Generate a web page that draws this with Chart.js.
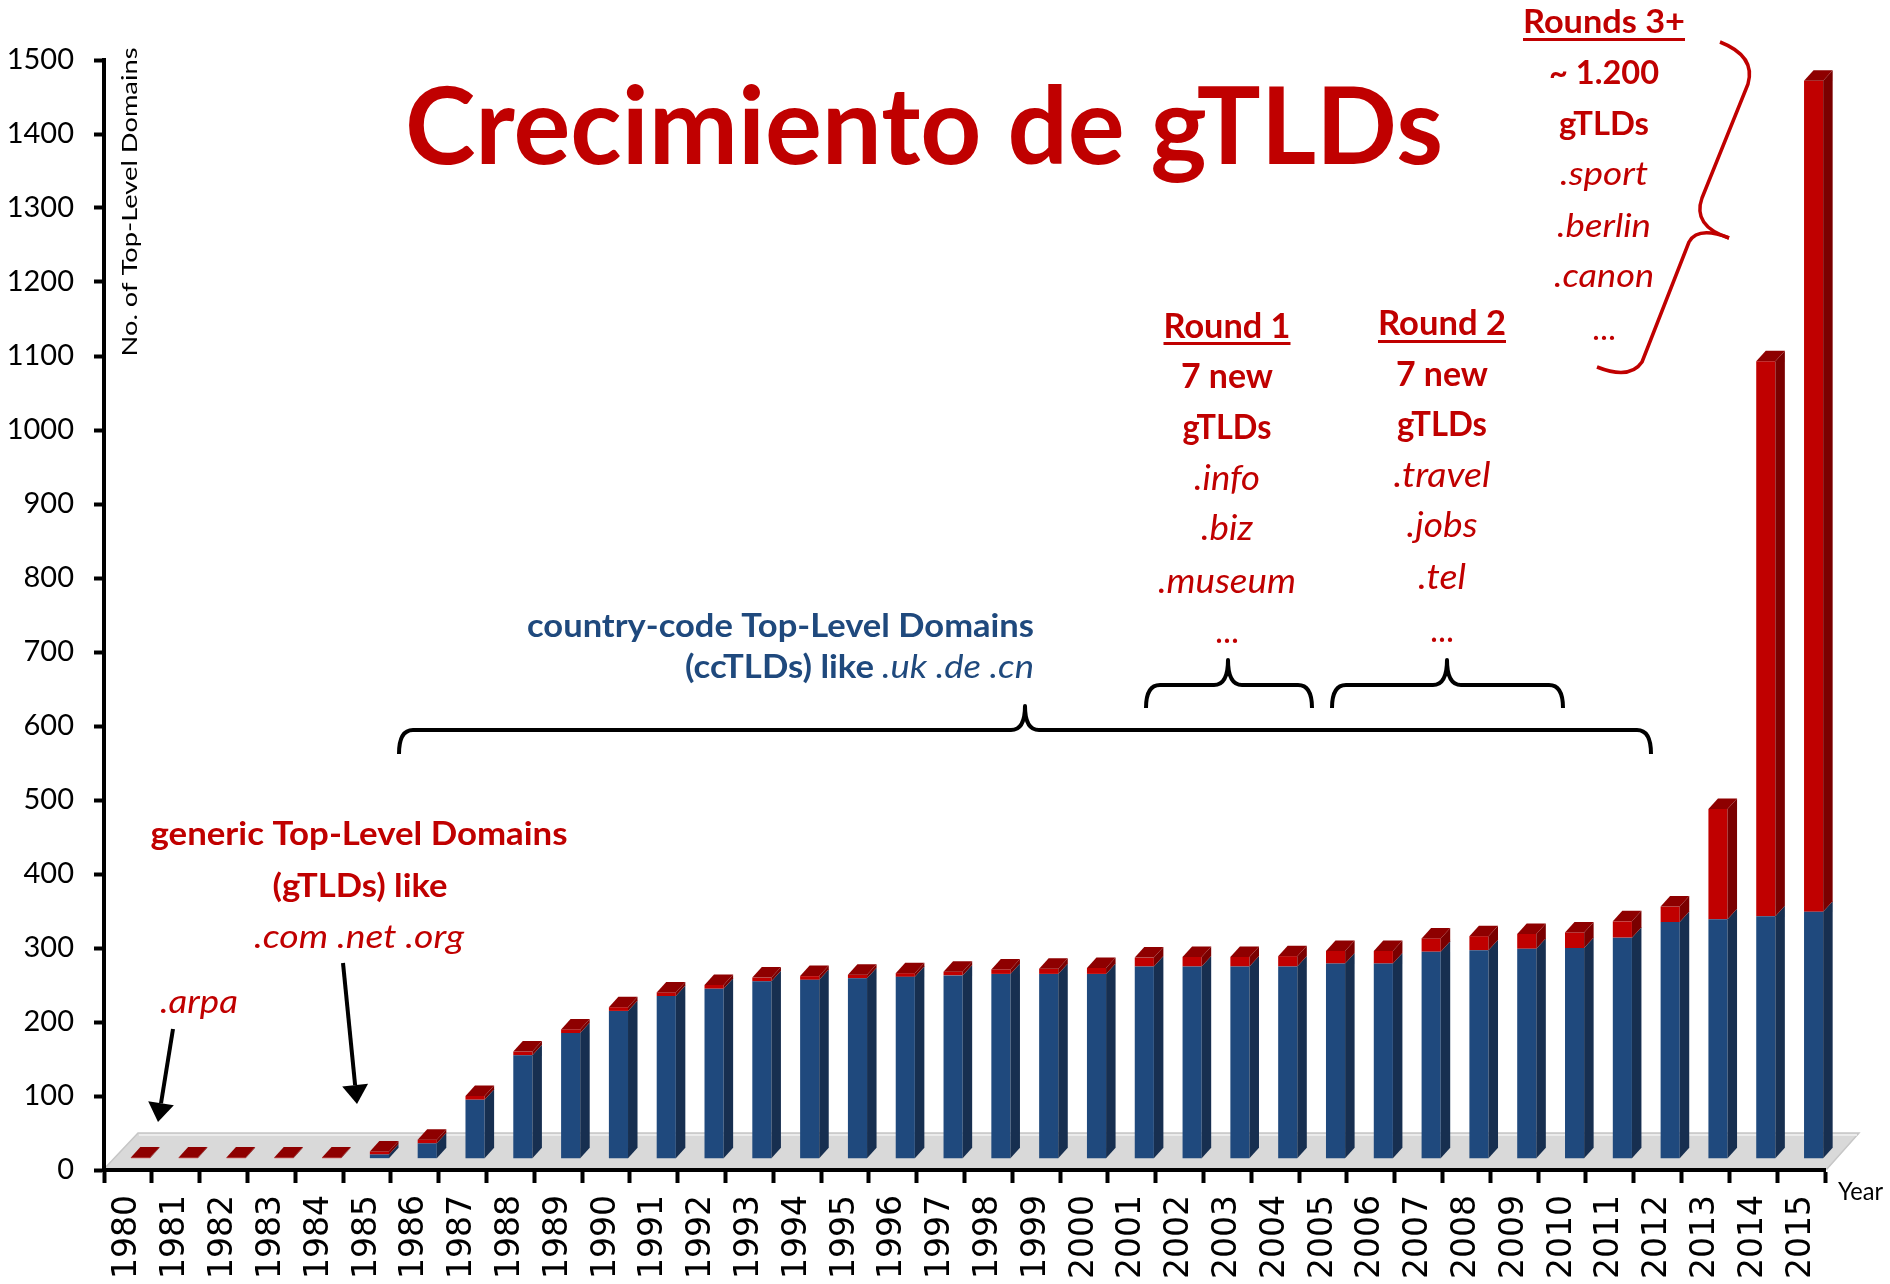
<!DOCTYPE html>
<html>
<head>
<meta charset="utf-8">
<title>Crecimiento de gTLDs</title>
<script src="https://cdn.jsdelivr.net/npm/chart.js@4.4.1/dist/chart.umd.min.js"></script>
<style>
  html, body { margin: 0; padding: 0; background: #fff; }
  #wrap { width: 1890px; height: 1284px; }
</style>
</head>
<body>
<div id="wrap"><canvas id="chart" width="1890" height="1284"></canvas></div>
<script>
// Datos (nº de dominios de primer nivel por año)
const YEARS = ['1980','1981','1982','1983','1984','1985','1986','1987','1988','1989',
  '1990','1991','1992','1993','1994','1995','1996','1997','1998','1999',
  '2000','2001','2002','2003','2004','2005','2006','2007','2008','2009',
  '2010','2011','2012','2013','2014','2015'];

// ccTLDs (azul)
const CC_TLDS = [0,0,0,0,0,5,20,79,139,169,
  199,219,229,239,241,243,245,247,249,249,
  249,259,259,259,259,263,263,279,281,283,
  284,298,319,323,327,333];

// gTLDs (rojo)
const G_TLDS = [1,1,1,1,1,4,5,5,5,5,
  5,5,5,5,5,5,5,5,6,7,
  8,12,13,13,14,17,17,18,19,20,
  21,22,21,149,750,1123];

const Y_TICKS = [0,100,200,300,400,500,600,700,800,900,1000,1100,1200,1300,1400,1500];

// =========================
// Estilo
const RED = '#C00000';
const BLUE = '#1F497D';
const FONT = 'Lato';
const FLOOR = 16;        // grosor del "suelo" 3D, en unidades del eje
const BAR_SHIFT = 12.5;  // desplazamiento de la cara frontal (perspectiva)
const DX = 9.5, DY = 10.5; // profundidad de las barras

// Tabla para Chart.js: barras flotantes que empiezan en el suelo
const ccData = CC_TLDS.map(v => [FLOOR, FLOOR + v]);
const gData = G_TLDS.map((v, i) => [FLOOR + CC_TLDS[i], FLOOR + CC_TLDS[i] + v]);

function poly(ctx, pts, color){
  ctx.beginPath();
  ctx.moveTo(pts[0][0], pts[0][1]);
  for (let k = 1; k < pts.length; k++) ctx.lineTo(pts[k][0], pts[k][1]);
  ctx.closePath();
  ctx.fillStyle = color;
  ctx.fill();
}

// texto con ancho ajustado (Calibri es más estrecha que Lato)
function label(ctx, str, x, y, size, o){
  o = o || {};
  ctx.save();
  ctx.font = `${o.italic ? 'italic ' : ''}${o.bold ? 'bold ' : ''}${size}px ${FONT}`;
  const w = ctx.measureText(str).width;
  const sx = o.width ? o.width / w : 1;
  const ww = w * sx;
  const left = o.align === 'right' ? x - ww : (o.align === 'left' ? x : x - ww / 2);
  ctx.fillStyle = o.color || RED;
  ctx.textAlign = 'left';
  ctx.textBaseline = 'alphabetic';
  ctx.translate(left, y);
  ctx.scale(sx, 1);
  ctx.fillText(str, 0, 0);
  ctx.restore();
  if (o.underline){
    ctx.fillStyle = o.color || RED;
    ctx.fillRect(left, y + o.underline, ww, 3);
  }
}

function brace(ctx, x1, x2, yLine, yEnd, xTip, yTip){
  const r = 14;
  ctx.beginPath();
  ctx.moveTo(x1, yEnd);
  ctx.quadraticCurveTo(x1, yLine, x1 + r, yLine);
  ctx.lineTo(xTip - r, yLine);
  ctx.quadraticCurveTo(xTip, yLine, xTip, yTip);
  ctx.quadraticCurveTo(xTip, yLine, xTip + r, yLine);
  ctx.lineTo(x2 - r, yLine);
  ctx.quadraticCurveTo(x2, yLine, x2, yEnd);
  ctx.stroke();
}

function arrow(ctx, x1, y1, x2, y2){
  const ang = Math.atan2(y2 - y1, x2 - x1);
  const len = 19, half = 13;
  const bx = x2 - Math.cos(ang) * len, by = y2 - Math.sin(ang) * len;
  ctx.beginPath();
  ctx.moveTo(x1, y1);
  ctx.lineTo(bx, by);
  ctx.stroke();
  poly(ctx, [[x2, y2],
    [bx + Math.sin(ang) * half, by - Math.cos(ang) * half],
    [bx - Math.sin(ang) * half, by + Math.cos(ang) * half]], '#000');
}

// =========================
// Plugins
const floorPlugin = {
  id: 'floor3d',
  beforeDraw(chart){
    const { ctx, chartArea: a } = chart;
    const y0 = chart.scales.y.getPixelForValue(0);
    ctx.save();
    ctx.beginPath();
    ctx.moveTo(a.left, y0 - 1);
    ctx.lineTo(a.left + 34, y0 - 37);
    ctx.lineTo(a.right + 34, y0 - 37);
    ctx.lineTo(a.right + 2, y0 - 1);
    ctx.closePath();
    ctx.fillStyle = '#d9d9d9';
    ctx.fill();
    ctx.strokeStyle = '#c6c6c6';
    ctx.lineWidth = 1.5;
    ctx.stroke();
    ctx.strokeStyle = '#f2f2f2';
    ctx.beginPath();
    ctx.moveTo(a.left + 35, y0 - 35);
    ctx.lineTo(a.right + 32, y0 - 35);
    ctx.stroke();
    ctx.restore();
  }
};

const barsPlugin = {
  id: 'bars3d',
  afterDatasetsUpdate(chart){
    chart.data.datasets.forEach((d, i) => {
      chart.getDatasetMeta(i).data.forEach(el => { el.x += BAR_SHIFT; });
    });
  },
  afterDatasetsDraw(chart){
    const ctx = chart.ctx;
    const sides = ['#172F50', '#7A0000'];
    ctx.save();
    chart.data.datasets.forEach((d, i) => {
      chart.getDatasetMeta(i).data.forEach(el => {
        const { x, y, base, width } = el.getProps(['x', 'y', 'base', 'width'], true);
        const l = x - width / 2, r = x + width / 2;
        const top = Math.min(y, base), bot = Math.max(y, base);
        if (bot - top > 0.2){
          poly(ctx, [[r, top], [r + DX, top - DY], [r + DX, bot - DY], [r, bot]], sides[i]);
        }
        if (i === 1){
          poly(ctx, [[l, top], [l + DX, top - DY], [r + DX, top - DY], [r, top]], '#8E0000');
        }
      });
    });
    ctx.restore();
  }
};

const notesPlugin = {
  id: 'notes',
  afterDraw(chart){
    const ctx = chart.ctx;
    ctx.save();

    // título
    label(ctx, 'Crecimiento de gTLDs', 924, 164, 108, { bold: true, width: 1038 });

    // títulos de ejes
    ctx.save();
    ctx.translate(137, 202);
    ctx.rotate(-Math.PI / 2);
    label(ctx, 'No. of Top-Level Domains', 0, 0, 22, { color: '#000', width: 309 });
    ctx.restore();
    label(ctx, 'Year', 1838, 1200, 25, { align: 'left', width: 45, color: '#000' });

    // gTLDs genéricos
    label(ctx, 'generic Top-Level Domains', 359, 845, 32, { bold: true, width: 417 });
    label(ctx, '(gTLDs) like', 360, 897, 32, { bold: true, width: 175 });
    label(ctx, '.com .net .org', 359, 948, 32, { italic: true, width: 210 });
    label(ctx, '.arpa', 199, 1013, 32, { italic: true, width: 78 });

    // ccTLDs
    label(ctx, 'country-code Top-Level Domains', 1034, 637, 32, { bold: true, align: 'right', width: 507, color: BLUE });
    label(ctx, '.uk .de .cn', 1034, 678, 32, { italic: true, align: 'right', width: 152, color: BLUE });
    label(ctx, '(ccTLDs) like', 874, 678, 32, { bold: true, align: 'right', width: 189, color: BLUE });

    // Round 1
    label(ctx, 'Round 1', 1227, 338, 35, { bold: true, width: 127, underline: 4 });
    label(ctx, '7 new', 1227, 388, 35, { bold: true, width: 92 });
    label(ctx, 'gTLDs', 1227, 439, 35, { bold: true, width: 89 });
    label(ctx, '.info', 1227, 490, 35, { italic: true, width: 66 });
    label(ctx, '.biz', 1227, 540, 35, { italic: true, width: 52 });
    label(ctx, '.museum', 1227, 593, 35, { italic: true, width: 138 });
    label(ctx, '...', 1227, 643, 35, { width: 24 });

    // Round 2
    label(ctx, 'Round 2', 1442, 335, 35, { bold: true, width: 128, underline: 5 });
    label(ctx, '7 new', 1442, 386, 35, { bold: true, width: 92 });
    label(ctx, 'gTLDs', 1442, 436, 35, { bold: true, width: 90 });
    label(ctx, '.travel', 1442, 487, 35, { italic: true, width: 97 });
    label(ctx, '.jobs', 1442, 537, 35, { italic: true, width: 71 });
    label(ctx, '.tel', 1442, 589, 35, { italic: true, width: 48 });
    label(ctx, '...', 1442, 642, 35, { width: 24 });

    // Rounds 3+
    label(ctx, 'Rounds 3+', 1604, 33, 33, { bold: true, width: 162, underline: 5 });
    label(ctx, '~ 1.200', 1604, 84, 33, { bold: true, width: 110 });
    label(ctx, 'gTLDs', 1604, 135, 33, { bold: true, width: 90 });
    label(ctx, '.sport', 1604, 185, 33, { italic: true, width: 88 });
    label(ctx, '.berlin', 1604, 237, 33, { italic: true, width: 94 });
    label(ctx, '.canon', 1604, 287, 33, { italic: true, width: 100 });
    label(ctx, '...', 1604, 340, 33, { width: 24 });

    // llaves negras
    ctx.strokeStyle = '#000';
    ctx.lineWidth = 4;
    ctx.lineJoin = 'round';
    brace(ctx, 399, 1651, 730, 754, 1025, 706);
    brace(ctx, 1146, 1312, 685, 708, 1228, 660);
    brace(ctx, 1332, 1563, 685, 708, 1447, 660);

    // llave roja (Rounds 3+)
    ctx.strokeStyle = RED;
    ctx.lineWidth = 3.5;
    ctx.beginPath();
    ctx.moveTo(1720, 42);
    ctx.quadraticCurveTo(1756, 56, 1748, 84);
    ctx.lineTo(1702, 198);
    ctx.quadraticCurveTo(1692, 226, 1729, 238);
    ctx.stroke();
    ctx.beginPath();
    ctx.moveTo(1729, 238);
    ctx.quadraticCurveTo(1698, 226, 1689, 242);
    ctx.lineTo(1642, 362);
    ctx.quadraticCurveTo(1630, 380, 1597, 367);
    ctx.stroke();

    // flechas
    ctx.strokeStyle = '#000';
    ctx.lineWidth = 4;
    arrow(ctx, 173, 1029, 158, 1122);
    arrow(ctx, 343, 963, 357, 1104);

    ctx.restore();
  }
};

// =========================
// Gráfico
const chart = new Chart(document.getElementById('chart'), {
  type: 'bar',
  data: {
    labels: YEARS,
    datasets: [
      { label: 'ccTLDs', data: ccData, backgroundColor: BLUE, grouped: false,
        barPercentage: 0.4, categoryPercentage: 1, borderWidth: 0 },
      { label: 'gTLDs', data: gData, backgroundColor: RED, grouped: false,
        barPercentage: 0.4, categoryPercentage: 1, borderWidth: 0 }
    ]
  },
  options: {
    responsive: false,
    animation: false,
    devicePixelRatio: 1,
    layout: { padding: { left: 0, right: 65, top: 60, bottom: 0 } },
    plugins: { legend: { display: false }, tooltip: { enabled: false }, title: { display: false } },
    scales: {
      x: {
        offset: true,
        grid: { display: true, drawOnChartArea: false, drawTicks: true, offset: true,
                tickLength: 13, tickWidth: 4, tickColor: '#000' },
        border: { display: true, color: '#000', width: 4 },
        ticks: { autoSkip: false, minRotation: 90, maxRotation: 90, padding: 12, color: '#000',
                 font: { family: 'DejaVu Sans', size: 33 } },
        afterFit(s){ s.height = 114; s.paddingLeft = 0; s.paddingRight = 0; }
      },
      y: {
        min: 0, max: 1500,
        afterBuildTicks(s){ s.ticks = Y_TICKS.map(v => ({ value: v })); },
        grid: { display: true, drawOnChartArea: false, drawTicks: true,
                tickLength: 10, tickWidth: 4, tickColor: '#000' },
        border: { display: true, color: '#000', width: 4 },
        ticks: { padding: 20, color: '#000', font: { family: FONT, size: 29 },
                 callback: v => String(v) },
        afterFit(s){ s.width = 104; }
      }
    }
  },
  plugins: [floorPlugin, barsPlugin, notesPlugin]
});
</script>
</body>
</html>
